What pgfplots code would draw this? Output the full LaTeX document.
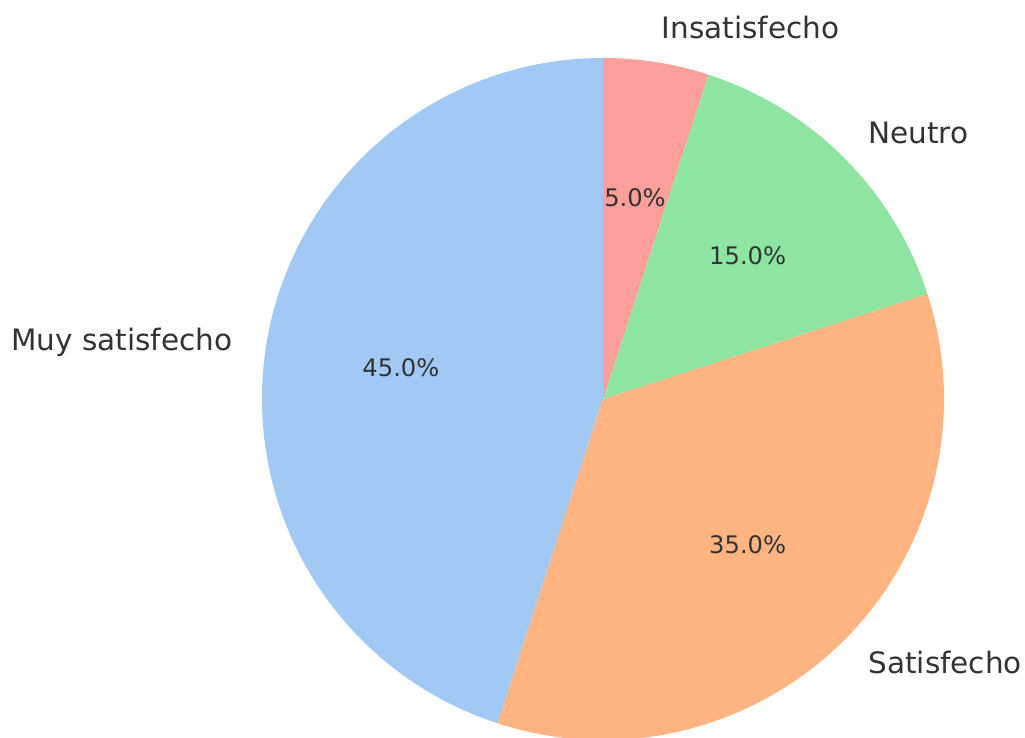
\documentclass[border=0pt]{standalone}
\usepackage{pgfplots}
\pgfplotsset{compat=1.18}
\usepackage{pgfplotstable}
\usepackage{fontspec}
\setmainfont{DejaVu Sans}

\definecolor{pBlue}{HTML}{A1C9F4}
\definecolor{pOrange}{HTML}{FFB482}
\definecolor{pGreen}{HTML}{8DE5A1}
\definecolor{pRed}{HTML}{FF9F9B}
\definecolor{txt}{HTML}{333333}

\newcommand\labfont{\fontsize{29.5}{35}\selectfont}
\newcommand\pctfont{\fontsize{24.2}{29}\selectfont}

% share of each answer, in percent
\pgfplotstableread[col sep=comma]{
label,value,color
Muy satisfecho,45,pBlue
Satisfecho,35,pOrange
Neutro,15,pGreen
Insatisfecho,5,pRed
}\piedata

\begin{document}
\begin{tikzpicture}
\begin{axis}[
    at={(0,0)}, anchor=south west,
    scale only axis,
    width=1025pt, height=738pt,
    xmin=0, xmax=1025, ymin=-738, ymax=0,
    hide axis,
    clip=true,
]
\pgfmathsetmacro\startang{90}
\pgfplotsforeachungrouped \i in {0,...,3}{%
    \pgfplotstablegetelem{\i}{value}\of\piedata \let\val\pgfplotsretval
    \pgfplotstablegetelem{\i}{label}\of\piedata \let\lab\pgfplotsretval
    \pgfplotstablegetelem{\i}{color}\of\piedata \let\col\pgfplotsretval
    \pgfmathsetmacro\endang{\startang+3.6*\val}%
    \pgfmathsetmacro\midang{\startang+1.8*\val}%
    \pgfmathtruncatemacro\isleft{cos(\midang)<0}%
    \ifnum\isleft=1 \def\anc{east}\else\def\anc{west}\fi
    \edef\pieslice{%
        \noexpand\fill[\col] (axis cs:603,-399) -- ++(\startang:341pt)
            arc[start angle=\startang, end angle=\endang, radius=341pt] -- cycle;
        \noexpand\path (axis cs:603,-399) ++(\midang:375.1pt)
            node[anchor=\anc, inner sep=0pt, text=txt, font=\noexpand\labfont,
                 text height=0.76em, text depth=0.21em, yshift=-7pt] {\lab};
        \noexpand\path (axis cs:603,-399) ++(\midang:204.6pt)
            node[anchor=center, inner sep=0pt, text=txt, font=\noexpand\pctfont,
                 text height=0.76em, text depth=0.21em, yshift=-7pt]
            {\noexpand\pgfmathprintnumber[fixed,fixed zerofill,precision=1,assume math mode=true]{\val}\noexpand\%};
    }%
    \pieslice
    \global\let\startang\endang
}
\end{axis}
\pgfresetboundingbox
\path[use as bounding box] (0,0) rectangle (1025pt,738pt);
\end{tikzpicture}
\end{document}
